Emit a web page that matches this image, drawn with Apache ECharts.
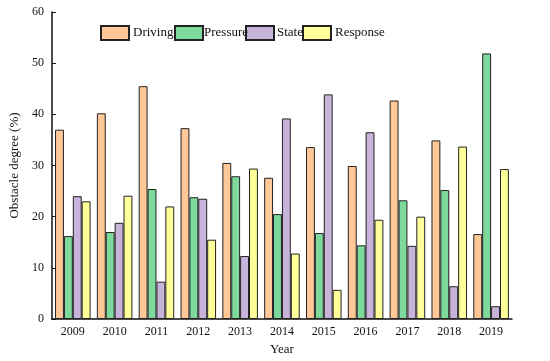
<!DOCTYPE html>
<html><head><meta charset="utf-8">
<script src="https://cdn.jsdelivr.net/npm/echarts@6/dist/echarts.min.js"></script>
<style>html,body{margin:0;padding:0;background:#fff}#c{width:550px;height:361px}</style>
</head><body><div id="c"></div>
<script>
const years = ['2009','2010','2011','2012','2013','2014','2015','2016','2017','2018','2019'];
const driving  = [37.0, 40.2, 45.5, 37.3, 30.5, 27.6, 33.6, 29.9, 42.7, 34.9, 16.6];
const pressure = [16.2, 17.0, 25.4, 23.8, 27.9, 20.5, 16.8, 14.4, 23.2, 25.2, 51.9];
const state    = [24.0, 18.8, 7.3, 23.5, 12.3, 39.2, 43.9, 36.5, 14.3, 6.4, 2.5];
const response = [23.0, 24.1, 22.0, 15.5, 29.4, 12.8, 5.7, 19.4, 20.0, 33.7, 29.3];
const yTicks = [0, 10, 20, 30, 40, 50, 60];

const font = 'Liberation Serif';
const colors = ['#FFC896', '#7DD99C', '#C8B4DB', '#FFFF99'];
const names = ['Driving', 'Pressure', 'State', 'Response'];
const dataSets = [driving, pressure, state, response];
const legendLeft = [100, 174, 245, 302];
const legendTextShift = [-1, -4, -2, -1];

const chart = echarts.init(document.getElementById('c'));
chart.setOption({
  animation: false,
  textStyle: {fontFamily: font},
  legend: names.map((n, i) => ({
    left: legendLeft[i], top: 25, padding: 0, itemWidth: 28, itemHeight: 14, icon: 'rect',
    z: 10 - i,
    textStyle: {fontFamily: font, fontSize: 13, color: '#111', padding: [0, 0, 0, legendTextShift[i]]},
    data: [n]
  })),
  grid: {left: 46, right: 38, top: 12, bottom: 37},
  xAxis: {
    type: 'category', data: years,
    name: 'Year', nameLocation: 'middle', nameGap: 24,
    nameTextStyle: {fontFamily: font, fontSize: 13, color: '#111'},
    axisLine: {lineStyle: {color: '#111', width: 1.5}},
    axisTick: {show: false},
    axisLabel: {fontFamily: font, fontSize: 12, color: '#111', margin: 7}
  },
  yAxis: {
    type: 'value', min: yTicks[0], max: yTicks[yTicks.length-1], interval: 10,
    name: 'Obstacle degree (%)', nameLocation: 'middle', nameGap: 26,
    nameTextStyle: {fontFamily: font, fontSize: 13, color: '#111'},
    axisLine: {show: true, lineStyle: {color: '#111', width: 1.5}},
    axisTick: {show: true, inside: true, length: 4, lineStyle: {color: '#111'}},
    splitLine: {show: false},
    axisLabel: {fontFamily: font, fontSize: 12, color: '#111', margin: 8}
  },
  series: names.map((n, i) => ({
    name: n, type: 'bar', data: dataSets[i],
    barGap: '0%', barCategoryGap: '15%',
    itemStyle: {color: colors[i], borderColor: '#222', borderWidth: 1}
  }))
});
</script></body></html>
